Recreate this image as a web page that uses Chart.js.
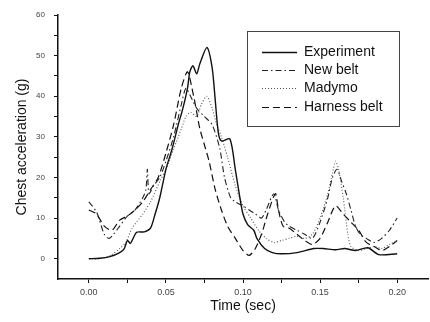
<!DOCTYPE html>
<html>
<head>
<meta charset="utf-8">
<script src="https://cdn.jsdelivr.net/npm/chart.js@4"></script>
<style>
html,body{margin:0;padding:0;background:#fff;}
#wrap{width:430px;height:322px;position:relative;}
</style>
</head>
<body>
<div id="wrap"><canvas id="c" width="430" height="322"></canvas></div>
<script>
// ---- Data (time in s, chest acceleration in g) ----
const expT = [0,0.007,0.0136,0.020,0.023,0.025,0.027,0.031,0.036,0.040,0.043,0.046,0.050,0.054,0.058,0.061,0.064,0.0655,0.0675,0.070,0.072,0.0766,0.080,0.082,0.084,0.086,0.0915,0.095,0.098,0.100,0.103,0.107,0.109,0.114,0.119,0.125,0.135,0.146,0.152,0.160,0.166,0.173,0.181,0.188,0.200];
const expG = [0,0.1,0.5,1.5,2.5,4.5,3.8,6.5,6.6,7.5,11,15,22,27,33,37,42,46,47.5,45.5,48,52,47,39,31,29,29.5,22,15,11,8.4,7,5,2.5,1.5,1.2,1.5,2.5,2.5,2.2,2.5,2,2.7,1,1.2];

const newT = [0,0.005,0.010,0.013,0.016,0.020,0.025,0.030,0.035,0.037,0.038,0.039,0.042,0.046,0.050,0.055,0.060,0.063,0.066,0.070,0.075,0.080,0.085,0.088,0.092,0.095,0.100,0.104,0.108,0.112,0.115,0.120,0.123,0.127,0.130,0.135,0.140,0.145,0.150,0.155,0.158,0.161,0.164,0.167,0.170,0.173,0.176,0.180,0.185,0.190,0.195,0.200];
const newG = [14,11.5,6,5,6,8,10.5,12,15,17,22,16,18,20,24,30,38,42,40,37,35,33,27,20,15,14,13,12,11,10,12,16,12,9,8,7,6,5,9,15,20,22,19,16,12,8,6,5,4,5,7,10];

const madT = [0,0.007,0.014,0.020,0.024,0.028,0.035,0.040,0.046,0.050,0.055,0.060,0.063,0.066,0.070,0.073,0.0765,0.080,0.083,0.086,0.090,0.095,0.100,0.105,0.110,0.115,0.120,0.125,0.130,0.135,0.140,0.145,0.150,0.155,0.158,0.160,0.162,0.165,0.168,0.170,0.175,0.180,0.185,0.190,0.195,0.200];
const madG = [0,0,0.8,2.5,4,7.5,11,14,19,22,27,32,35,36,35,38,40,37,33,30,25,18,13,10,7,5,4,4.5,5,5.5,5,6,10,16,21,24,22,15,6,3,2,2.5,3,2.5,3.5,4.5];

const harT = [0,0.005,0.010,0.015,0.020,0.025,0.030,0.035,0.040,0.045,0.050,0.055,0.060,0.064,0.068,0.070,0.072,0.075,0.078,0.082,0.086,0.090,0.095,0.100,0.104,0.108,0.112,0.116,0.121,0.123,0.126,0.130,0.135,0.140,0.145,0.150,0.155,0.160,0.165,0.170,0.175,0.180,0.185,0.190,0.195,0.200];
const harG = [12,11,8,7,9.5,10.5,12,14,17,20,26,33,42,46,40,36,32,28,24,17,12,8,5,2,0.8,2.5,6,11,16,12,8,7.5,6,4.5,3.5,5,9,13,11,9,7,4,3,2,3,4.5];

const xTicks = [0,0.025,0.05,0.075,0.10,0.125,0.15,0.175,0.20];
const xLabels = ["0.00","","0.05","","0.10","","0.15","","0.20"];
const yTicks = [0,5,10,15,20,25,30,35,40,45,50,55,60];
const seriesNames = ["Experiment","New belt","Madymo","Harness belt"];

function pts(t,g){ return t.map((v,i)=>({x:v,y:g[i]})); }

const styles = [
  {color:'#111', dash:[], width:1.4},
  {color:'#222', dash:[6,3,1.5,3], width:1.1},
  {color:'#555', dash:[1,2], width:1.1},
  {color:'#111', dash:[7,4], width:1.2}
];
const series = [[expT,expG],[newT,newG],[madT,madG],[harT,harG]];

const datasets = series.map((s,i)=>({
  label: seriesNames[i],
  data: pts(s[0], s[1]),
  borderColor: styles[i].color,
  borderDash: styles[i].dash,
  borderWidth: styles[i].width,
  pointRadius: 0,
  tension: 0.25,
  fill: false
}));

const legendPlugin = {
  id: 'boxLegend',
  afterDraw(chart) {
    const ctx = chart.ctx;
    ctx.save();
    ctx.strokeStyle = '#444';
    ctx.lineWidth = 1;
    ctx.setLineDash([]);
    ctx.strokeRect(247.5, 31.5, 152, 95);
    const rows = [52, 70, 88, 107];
    ctx.font = '14px "Liberation Sans", Arial, sans-serif';
    ctx.fillStyle = '#111';
    ctx.textBaseline = 'middle';
    chart.data.datasets.forEach((ds, i) => {
      const y = rows[i] + 0.5;
      ctx.strokeStyle = ds.borderColor;
      ctx.lineWidth = ds.borderWidth;
      ctx.setLineDash(ds.borderDash);
      ctx.beginPath();
      ctx.moveTo(262, y);
      ctx.lineTo(297, y);
      ctx.stroke();
      ctx.setLineDash([]);
      ctx.fillText(ds.label, 304, rows[i]);
    });
    ctx.restore();
  }
};

new Chart(document.getElementById('c'), {
  type: 'line',
  data: { datasets },
  plugins: [legendPlugin],
  options: {
    responsive: false,
    animation: false,
    layout: { padding: { top: 15, right: 2, left: 0, bottom: 0 } },
    plugins: { legend: { display: false }, tooltip: { enabled: false } },
    scales: {
      x: {
        type: 'linear',
        min: -0.02, max: 0.22,
        afterBuildTicks(scale) { scale.ticks = xTicks.map(v => ({value: v})); },
        afterFit(scale) { scale.height = 43; },
        ticks: {
          autoSkip: false, maxRotation: 0,
          padding: 4,
          color: '#444',
          font: { family: '"Liberation Sans", Arial, sans-serif', size: 9 },
          callback(v, i) { return xLabels[i]; }
        },
        grid: { drawOnChartArea: false, drawTicks: true, tickLength: 4, color: '#111' },
        border: { display: true, color: '#111', width: 1.5 },
        title: {
          display: true, text: 'Time (sec)', color: '#111',
          font: { family: '"Liberation Sans", Arial, sans-serif', size: 14 },
          padding: { top: 2, bottom: 7 }
        }
      },
      y: {
        type: 'linear',
        min: -5, max: 60,
        afterBuildTicks(scale) { scale.ticks = yTicks.map(v => ({value: v})); },
        afterFit(scale) { scale.width = 58; },
        ticks: {
          autoSkip: false,
          padding: 9,
          color: '#444',
          font: { family: '"Liberation Sans", Arial, sans-serif', size: 8 },
          callback(v) { return v % 10 === 0 ? String(v) : ''; }
        },
        grid: { drawOnChartArea: false, drawTicks: true, tickLength: 4, color: '#111' },
        border: { display: true, color: '#111', width: 1.5 },
        title: {
          display: true, text: 'Chest acceleration (g)', color: '#111',
          font: { family: '"Liberation Sans", Arial, sans-serif', size: 14 },
          padding: { top: 14, bottom: 2 }
        }
      }
    }
  }
});
</script>
</body>
</html>
